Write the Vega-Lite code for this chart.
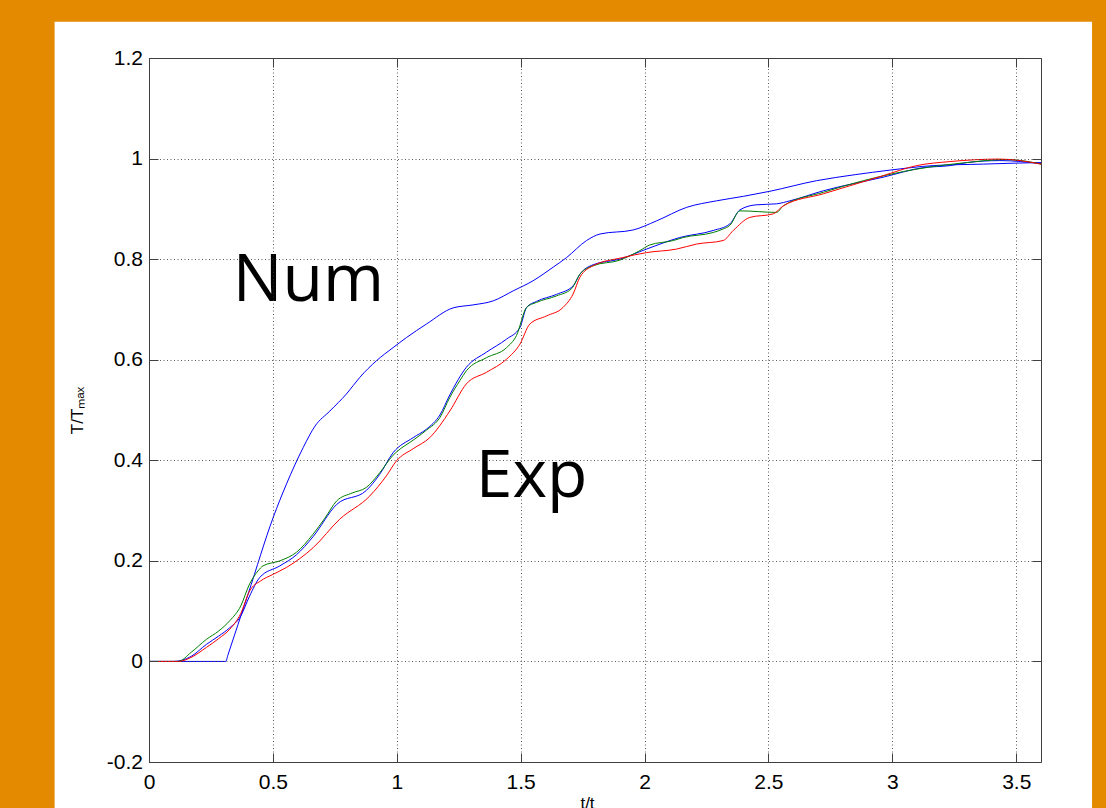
{
  "$schema": "https://vega.github.io/schema/vega-lite/v6.json",
  "autosize": "none",
  "width": 892,
  "height": 704,
  "padding": {"left": 149, "top": 58, "right": 65, "bottom": 46},
  "background": "#E38A00",
  "config": {
    "view": {"stroke": null, "fill": null},
    "font": "Liberation Sans",
    "axis": {
      "zindex": 1,
      "labelFlush": false,
      "domainColor": "#404040",
      "tickColor": "#404040",
      "tickSize": -9,
      "labelFont": "Liberation Sans",
      "labelFontSize": 21,
      "labelColor": "#000000",
      "titleFont": "Liberation Sans",
      "titleFontSize": 17,
      "titleFontWeight": "normal",
      "titleColor": "#000000",
      "gridColor": "#333333",
      "gridDash": [1, 2.5],
      "gridOpacity": 0.8,
      "gridWidth": 1
    }
  },
  "datasets": {
    "curves": [
      {"series": "Num", "t": 0, "v": 0}, {"series": "Num", "t": 0.31, "v": 0}, {"series": "Num", "t": 0.318, "v": 0.012}, {"series": "Num", "t": 0.40, "v": 0.134}, {"series": "Num", "t": 0.501, "v": 0.286}, {"series": "Num", "t": 0.555, "v": 0.353}, {"series": "Num", "t": 0.622, "v": 0.425}, {"series": "Num", "t": 0.670, "v": 0.468}, {"series": "Num", "t": 0.730, "v": 0.498}, {"series": "Num", "t": 0.797, "v": 0.532}, {"series": "Num", "t": 0.851, "v": 0.565}, {"series": "Num", "t": 0.918, "v": 0.598}, {"series": "Num", "t": 0.985, "v": 0.624}, {"series": "Num", "t": 1.039, "v": 0.644}, {"series": "Num", "t": 1.120, "v": 0.671}, {"series": "Num", "t": 1.227, "v": 0.703}, {"series": "Num", "t": 1.308, "v": 0.709}, {"series": "Num", "t": 1.389, "v": 0.717}, {"series": "Num", "t": 1.470, "v": 0.737}, {"series": "Num", "t": 1.550, "v": 0.757}, {"series": "Num", "t": 1.631, "v": 0.784}, {"series": "Num", "t": 1.685, "v": 0.803}, {"series": "Num", "t": 1.766, "v": 0.837}, {"series": "Num", "t": 1.820, "v": 0.850}, {"series": "Num", "t": 1.954, "v": 0.858}, {"series": "Num", "t": 2.048, "v": 0.876}, {"series": "Num", "t": 2.170, "v": 0.903}, {"series": "Num", "t": 2.291, "v": 0.916}, {"series": "Num", "t": 2.40, "v": 0.925}, {"series": "Num", "t": 2.506, "v": 0.935}, {"series": "Num", "t": 2.694, "v": 0.956}, {"series": "Num", "t": 2.85, "v": 0.968}, {"series": "Num", "t": 2.990, "v": 0.977}, {"series": "Num", "t": 3.165, "v": 0.986}, {"series": "Num", "t": 3.367, "v": 0.989}, {"series": "Num", "t": 3.5, "v": 0.991}, {"series": "Num", "t": 3.6, "v": 0.992},

      {"series": "ExpB", "t": 0, "v": 0}, {"series": "ExpB", "t": 0.10, "v": 0}, {"series": "ExpB", "t": 0.17, "v": 0.01}, {"series": "ExpB", "t": 0.232, "v": 0.034}, {"series": "ExpB", "t": 0.28, "v": 0.05}, {"series": "ExpB", "t": 0.326, "v": 0.067}, {"series": "ExpB", "t": 0.37, "v": 0.09}, {"series": "ExpB", "t": 0.406, "v": 0.130}, {"series": "ExpB", "t": 0.447, "v": 0.167}, {"series": "ExpB", "t": 0.528, "v": 0.190}, {"series": "ExpB", "t": 0.595, "v": 0.212}, {"series": "ExpB", "t": 0.662, "v": 0.248}, {"series": "ExpB", "t": 0.757, "v": 0.312}, {"series": "ExpB", "t": 0.877, "v": 0.340}, {"series": "ExpB", "t": 0.931, "v": 0.372}, {"series": "ExpB", "t": 0.985, "v": 0.415}, {"series": "ExpB", "t": 1.066, "v": 0.445}, {"series": "ExpB", "t": 1.12, "v": 0.462}, {"series": "ExpB", "t": 1.174, "v": 0.490}, {"series": "ExpB", "t": 1.214, "v": 0.530}, {"series": "ExpB", "t": 1.281, "v": 0.585}, {"series": "ExpB", "t": 1.362, "v": 0.615}, {"series": "ExpB", "t": 1.443, "v": 0.641}, {"series": "ExpB", "t": 1.497, "v": 0.664}, {"series": "ExpB", "t": 1.524, "v": 0.704}, {"series": "ExpB", "t": 1.564, "v": 0.716}, {"series": "ExpB", "t": 1.645, "v": 0.730}, {"series": "ExpB", "t": 1.712, "v": 0.747}, {"series": "ExpB", "t": 1.739, "v": 0.770}, {"series": "ExpB", "t": 1.793, "v": 0.789}, {"series": "ExpB", "t": 1.900, "v": 0.800}, {"series": "ExpB", "t": 2.008, "v": 0.820}, {"series": "ExpB", "t": 2.142, "v": 0.843}, {"series": "ExpB", "t": 2.277, "v": 0.857}, {"series": "ExpB", "t": 2.344, "v": 0.870}, {"series": "ExpB", "t": 2.385, "v": 0.898}, {"series": "ExpB", "t": 2.45, "v": 0.908}, {"series": "ExpB", "t": 2.533, "v": 0.910}, {"series": "ExpB", "t": 2.587, "v": 0.916}, {"series": "ExpB", "t": 2.722, "v": 0.936}, {"series": "ExpB", "t": 2.963, "v": 0.963}, {"series": "ExpB", "t": 3.125, "v": 0.982}, {"series": "ExpB", "t": 3.232, "v": 0.986}, {"series": "ExpB", "t": 3.300, "v": 0.992}, {"series": "ExpB", "t": 3.434, "v": 0.996}, {"series": "ExpB", "t": 3.6, "v": 0.990},

      {"series": "ExpG", "t": 0, "v": 0}, {"series": "ExpG", "t": 0.118, "v": 0}, {"series": "ExpG", "t": 0.17, "v": 0.018}, {"series": "ExpG", "t": 0.232, "v": 0.044}, {"series": "ExpG", "t": 0.28, "v": 0.06}, {"series": "ExpG", "t": 0.326, "v": 0.081}, {"series": "ExpG", "t": 0.37, "v": 0.11}, {"series": "ExpG", "t": 0.406, "v": 0.154}, {"series": "ExpG", "t": 0.44, "v": 0.18}, {"series": "ExpG", "t": 0.460, "v": 0.190}, {"series": "ExpG", "t": 0.528, "v": 0.200}, {"series": "ExpG", "t": 0.595, "v": 0.217}, {"series": "ExpG", "t": 0.662, "v": 0.253}, {"series": "ExpG", "t": 0.71, "v": 0.285}, {"series": "ExpG", "t": 0.757, "v": 0.319}, {"series": "ExpG", "t": 0.82, "v": 0.335}, {"series": "ExpG", "t": 0.877, "v": 0.346}, {"series": "ExpG", "t": 0.931, "v": 0.375}, {"series": "ExpG", "t": 0.985, "v": 0.410}, {"series": "ExpG", "t": 1.0, "v": 0.417}, {"series": "ExpG", "t": 1.066, "v": 0.440}, {"series": "ExpG", "t": 1.12, "v": 0.460}, {"series": "ExpG", "t": 1.174, "v": 0.485}, {"series": "ExpG", "t": 1.214, "v": 0.525}, {"series": "ExpG", "t": 1.254, "v": 0.558}, {"series": "ExpG", "t": 1.281, "v": 0.578}, {"series": "ExpG", "t": 1.362, "v": 0.604}, {"series": "ExpG", "t": 1.443, "v": 0.624}, {"series": "ExpG", "t": 1.483, "v": 0.648}, {"series": "ExpG", "t": 1.524, "v": 0.704}, {"series": "ExpG", "t": 1.564, "v": 0.714}, {"series": "ExpG", "t": 1.645, "v": 0.727}, {"series": "ExpG", "t": 1.705, "v": 0.741}, {"series": "ExpG", "t": 1.739, "v": 0.770}, {"series": "ExpG", "t": 1.793, "v": 0.787}, {"series": "ExpG", "t": 1.900, "v": 0.798}, {"series": "ExpG", "t": 1.981, "v": 0.817}, {"series": "ExpG", "t": 2.02, "v": 0.828}, {"series": "ExpG", "t": 2.116, "v": 0.837}, {"series": "ExpG", "t": 2.156, "v": 0.843}, {"series": "ExpG", "t": 2.277, "v": 0.853}, {"series": "ExpG", "t": 2.317, "v": 0.860}, {"series": "ExpG", "t": 2.344, "v": 0.867}, {"series": "ExpG", "t": 2.385, "v": 0.896}, {"series": "ExpG", "t": 2.533, "v": 0.893}, {"series": "ExpG", "t": 2.560, "v": 0.906}, {"series": "ExpG", "t": 2.722, "v": 0.933}, {"series": "ExpG", "t": 2.883, "v": 0.956}, {"series": "ExpG", "t": 3.098, "v": 0.979}, {"series": "ExpG", "t": 3.300, "v": 0.992}, {"series": "ExpG", "t": 3.45, "v": 0.998}, {"series": "ExpG", "t": 3.502, "v": 0.997}, {"series": "ExpG", "t": 3.6, "v": 0.989},

      {"series": "ExpR", "t": 0, "v": 0}, {"series": "ExpR", "t": 0.12, "v": 0}, {"series": "ExpR", "t": 0.17, "v": 0.008}, {"series": "ExpR", "t": 0.232, "v": 0.028}, {"series": "ExpR", "t": 0.28, "v": 0.045}, {"series": "ExpR", "t": 0.326, "v": 0.064}, {"series": "ExpR", "t": 0.37, "v": 0.095}, {"series": "ExpR", "t": 0.406, "v": 0.140}, {"series": "ExpR", "t": 0.45, "v": 0.160}, {"series": "ExpR", "t": 0.5, "v": 0.173}, {"series": "ExpR", "t": 0.555, "v": 0.187}, {"series": "ExpR", "t": 0.662, "v": 0.226}, {"series": "ExpR", "t": 0.770, "v": 0.283}, {"series": "ExpR", "t": 0.891, "v": 0.329}, {"series": "ExpR", "t": 0.958, "v": 0.369}, {"series": "ExpR", "t": 0.999, "v": 0.399}, {"series": "ExpR", "t": 1.066, "v": 0.423}, {"series": "ExpR", "t": 1.133, "v": 0.445}, {"series": "ExpR", "t": 1.214, "v": 0.498}, {"series": "ExpR", "t": 1.281, "v": 0.552}, {"series": "ExpR", "t": 1.362, "v": 0.575}, {"series": "ExpR", "t": 1.443, "v": 0.601}, {"series": "ExpR", "t": 1.497, "v": 0.631}, {"series": "ExpR", "t": 1.537, "v": 0.671}, {"series": "ExpR", "t": 1.604, "v": 0.687}, {"series": "ExpR", "t": 1.671, "v": 0.704}, {"series": "ExpR", "t": 1.712, "v": 0.731}, {"series": "ExpR", "t": 1.739, "v": 0.764}, {"series": "ExpR", "t": 1.793, "v": 0.787}, {"series": "ExpR", "t": 1.911, "v": 0.803}, {"series": "ExpR", "t": 2.008, "v": 0.813}, {"series": "ExpR", "t": 2.129, "v": 0.820}, {"series": "ExpR", "t": 2.210, "v": 0.830}, {"series": "ExpR", "t": 2.317, "v": 0.837}, {"series": "ExpR", "t": 2.358, "v": 0.857}, {"series": "ExpR", "t": 2.425, "v": 0.883}, {"series": "ExpR", "t": 2.519, "v": 0.890}, {"series": "ExpR", "t": 2.560, "v": 0.906}, {"series": "ExpR", "t": 2.722, "v": 0.930}, {"series": "ExpR", "t": 2.963, "v": 0.966}, {"series": "ExpR", "t": 3.098, "v": 0.986}, {"series": "ExpR", "t": 3.232, "v": 0.994}, {"series": "ExpR", "t": 3.434, "v": 0.999}, {"series": "ExpR", "t": 3.6, "v": 0.989}
    ],
    "labels": [
      {"label": "Num", "t": 0.338, "v": 0.717},
      {"label": "Exp", "t": 1.319, "v": 0.326}
    ]
  },
  "resolve": {"axis": {"x": "independent", "y": "independent"}},
  "layer": [
    {
      "data": {"values": [{"panel": "bg"}]},
      "mark": {"type": "rect", "color": "#FFFFFF", "clip": false},
      "encoding": {
        "x": {"datum": -0.381, "type": "quantitative", "scale": {"domain": [0, 3.6], "nice": false, "zero": false}, "axis": null},
        "x2": {"datum": 3.806},
        "y": {"datum": 1.272, "type": "quantitative", "scale": {"domain": [-0.2, 1.2], "nice": false, "zero": false}, "axis": null},
        "y2": {"datum": -0.4}
      }
    },
    {
      "data": {"name": "curves"},
      "mark": {"type": "line", "strokeWidth": 1, "clip": true, "interpolate": "monotone"},
      "encoding": {
        "x": {
          "field": "t", "type": "quantitative",
          "scale": {"domain": [0, 3.6], "nice": false, "zero": false},
          "axis": {
            "orient": "bottom", "zindex": 1, "values": [0, 0.5, 1, 1.5, 2, 2.5, 3, 3.5],
            "labelExpr": "'' + datum.value", "labelPadding": 18,
            "grid": true, "title": "t/t", "titlePadding": 3, "titleX": 438
          }
        },
        "y": {
          "field": "v", "type": "quantitative",
          "scale": {"domain": [-0.2, 1.2], "nice": false, "zero": false},
          "axis": {
            "orient": "left", "zindex": 1, "values": [-0.2, 0, 0.2, 0.4, 0.6, 0.8, 1, 1.2],
            "labelExpr": "'' + datum.value", "labelPadding": 15.5,
            "grid": true, "title": "T/Tₘₐₓ", "titlePadding": 20
          }
        },
        "color": {
          "field": "series", "type": "nominal",
          "scale": {"domain": ["Num", "ExpB", "ExpG", "ExpR"], "range": ["#0000FF", "#0000FF", "#008000", "#FF0000"]},
          "legend": null
        }
      }
    },
    {
      "data": {"name": "labels"},
      "mark": {"type": "text", "font": "Open Sans", "fontSize": 66, "align": "left", "baseline": "alphabetic", "color": "#000000"},
      "encoding": {
        "x": {
          "field": "t", "type": "quantitative",
          "scale": {"domain": [0, 3.6], "nice": false, "zero": false},
          "axis": {"orient": "top", "zindex": 1, "values": [0, 0.5, 1, 1.5, 2, 2.5, 3, 3.5], "labels": false, "grid": false, "domain": true, "title": null}
        },
        "y": {
          "field": "v", "type": "quantitative",
          "scale": {"domain": [-0.2, 1.2], "nice": false, "zero": false},
          "axis": {"orient": "right", "zindex": 1, "values": [-0.2, 0, 0.2, 0.4, 0.6, 0.8, 1, 1.2], "labels": false, "grid": false, "domain": true, "title": null}
        },
        "text": {"field": "label"}
      }
    }
  ]
}
